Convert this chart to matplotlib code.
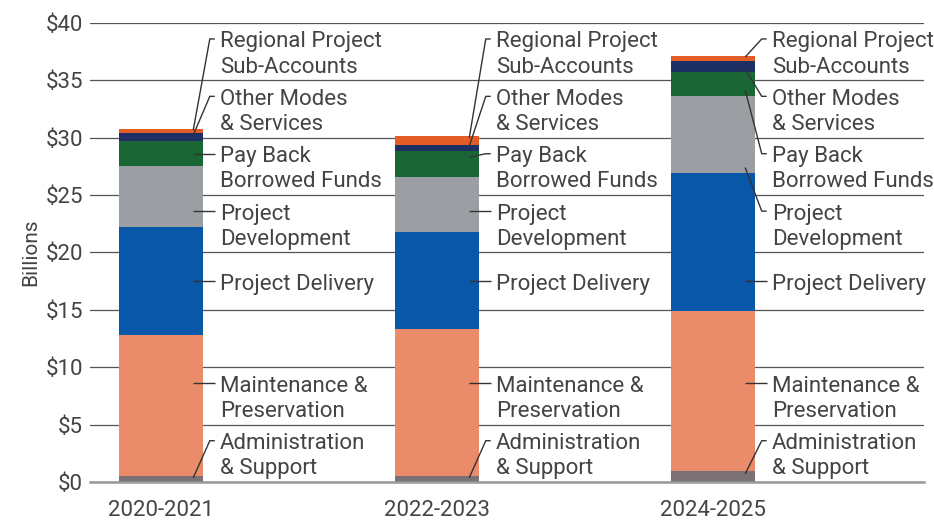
import matplotlib.pyplot as plt
import numpy as np

plt.rcParams["font.family"] = ["Roboto", "DejaVu Sans"]

# budget periods and spending by category, billions of dollars
periods = ["2020-2021", "2022-2023", "2024-2025"]
categories = ["Administration\n& Support", "Maintenance &\nPreservation", "Project Delivery",
              "Project\nDevelopment", "Pay Back\nBorrowed Funds", "Other Modes\n& Services",
              "Regional Project\nSub-Accounts"]
admin = [0.5, 0.5, 0.95]
maintenance = [12.3, 12.8, 13.95]
delivery = [9.4, 8.5, 12.0]
development = [5.35, 4.8, 6.75]
payback = [2.15, 2.2, 2.1]
other_modes = [0.7, 0.6, 0.9]
regional = [0.35, 0.75, 0.5]

colors = ["#7b7175", "#ea8b69", "#0957a8", "#9b9fa4", "#1b6635", "#1e2f66", "#e35d27"]
# where each category's label sits on the value axis (between gridlines)
label_y = [2.5, 7.5, 17.5, 22.5, 27.5, 32.5, 37.5]

series = [admin, maintenance, delivery, development, payback, other_modes, regional]

fig, ax = plt.subplots(figsize=(9.34, 5.2), dpi=100)
fig.subplots_adjust(left=0.0964, right=0.989, bottom=0.073, top=0.956)

x = np.arange(len(periods))
width = 0.304
bottom = np.zeros(len(periods))
for vals, c in zip(series, colors):
    ax.bar(x, vals, width, bottom=bottom, color=c, zorder=3)
    bottom += np.array(vals)

# labels with leader lines to the right of each bar
ink = "#444444"
for i in range(len(periods)):
    right = x[i] + width / 2
    base = 0.0
    for j, name in enumerate(categories):
        h = series[j][i]
        lo, hi = base, base + h
        base = hi
        two_lines = "\n" in name
        first_y = label_y[j] + (1.1 if two_lines else 0)
        pad = min(0.25 * h, 0.5)
        anchor_y = min(max(first_y, lo + pad), hi - pad)
        ax.plot([right - 0.035, right + 0.025, right + 0.043],
                [anchor_y, first_y, first_y], color="#333333", lw=1, zorder=4,
                solid_capstyle="butt")
        ax.text(right + 0.0616, label_y[j] - 0.25, name, ha="left", va="center",
                fontsize=16, color=ink, linespacing=1.26, zorder=5)

ax.set_ylim(0, 40)
ax.set_xlim(-0.257, 2.764)
ax.set_yticks(range(0, 41, 5))
ax.set_yticklabels([f"${v}" for v in range(0, 41, 5)])
ax.set_xticks(x)
ax.set_xticklabels(periods)
ax.tick_params(axis="both", length=0, labelsize=16, labelcolor=ink)
ax.tick_params(axis="y", pad=5)
ax.tick_params(axis="x", pad=13)
ax.set_ylabel("Billions", fontsize=15, color=ink, labelpad=4)

ax.grid(axis="y", color="#555555", lw=0.9, zorder=1)
for side in ["top", "right", "left"]:
    ax.spines[side].set_visible(False)
ax.spines["bottom"].set_color("#999999")
ax.spines["bottom"].set_linewidth(1.8)
ax.spines["bottom"].set_zorder(4)

plt.savefig("out.png")
